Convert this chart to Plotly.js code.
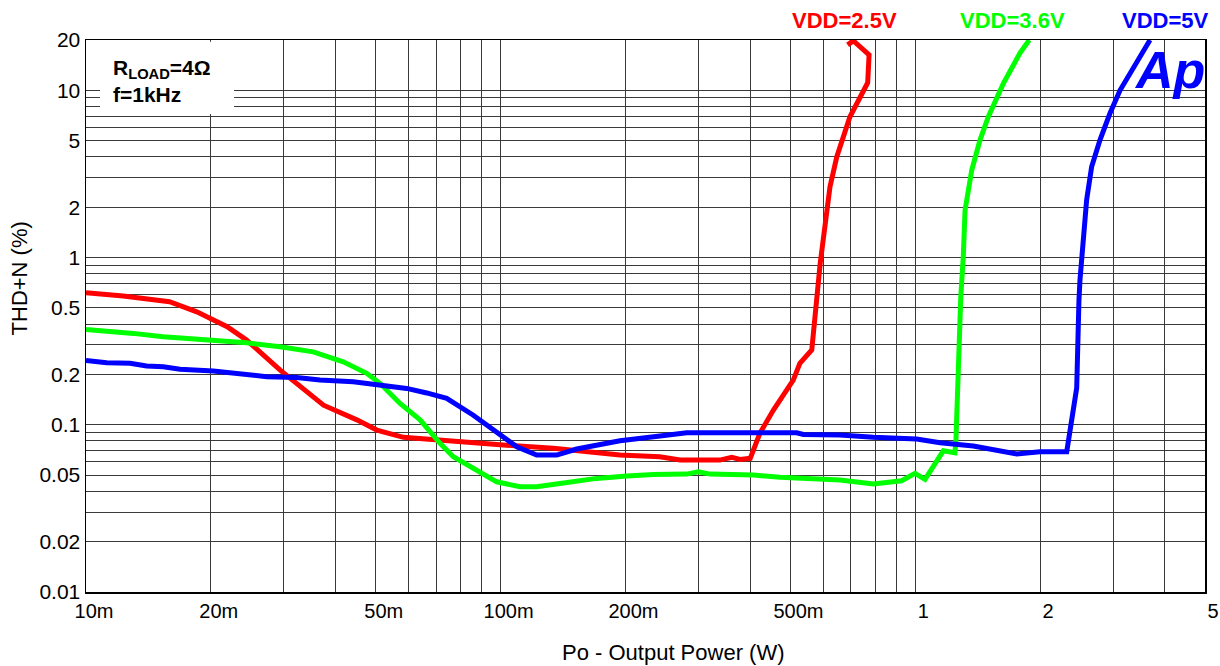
<!DOCTYPE html>
<html>
<head>
<meta charset="utf-8">
<script src="https://cdn.plot.ly/plotly-3.0.1.min.js"></script>
<style>html,body{margin:0;padding:0;background:#fff;}#chart{width:1220px;height:666px;}</style>
</head>
<body>
<div id="chart"></div>
<script>
// ---- data (Po in W, THD+N in %) ----
const redX = [0.01, 0.0123, 0.0159, 0.0185, 0.0219, 0.0244, 0.0294, 0.0347, 0.0374, 0.045, 0.0503, 0.0583, 0.0702, 0.0892, 0.1015, 0.134, 0.167, 0.194, 0.242, 0.271, 0.338, 0.361, 0.378, 0.40, 0.422, 0.455, 0.508, 0.527, 0.563, 0.590, 0.623, 0.647, 0.696, 0.736, 0.768, 0.774, 0.709, 0.687];
const redY = [0.616, 0.589, 0.544, 0.474, 0.386, 0.321, 0.212, 0.154, 0.131, 0.107, 0.093, 0.0841, 0.0811, 0.0767, 0.0757, 0.0723, 0.069, 0.0659, 0.0644, 0.0615, 0.0615, 0.0639, 0.0621, 0.063, 0.0889, 0.1225, 0.185, 0.233, 0.28, 0.924, 2.65, 4.01, 6.95, 9.16, 11.1, 16.3, 19.8, 18.7];

const greenX = [0.01, 0.01143, 0.013, 0.01536, 0.01717, 0.02028, 0.0244, 0.02937, 0.03534, 0.04174, 0.04754, 0.05118, 0.05721, 0.06393, 0.07143, 0.07691, 0.08757, 0.09786, 0.1114, 0.1222, 0.1391, 0.1705, 0.2015, 0.2335, 0.2811, 0.2999, 0.3201, 0.407, 0.4721, 0.5679, 0.6585, 0.7924, 0.9276, 0.9988, 1.056, 1.169, 1.247, 1.254, 1.27, 1.288, 1.306, 1.319, 1.369, 1.433, 1.501, 1.632, 1.789, 1.884];
const greenY = [0.372, 0.364, 0.352, 0.336, 0.329, 0.321, 0.309, 0.293, 0.273, 0.238, 0.203, 0.177, 0.134, 0.107, 0.0774, 0.0644, 0.0536, 0.0456, 0.0426, 0.0426, 0.0446, 0.0478, 0.0494, 0.0505, 0.0507, 0.0524, 0.0507, 0.05, 0.0485, 0.0474, 0.0467, 0.0442, 0.0463, 0.0512, 0.0472, 0.0699, 0.068, 0.0811, 0.233, 0.583, 1.01, 1.92, 3.34, 5.04, 6.95, 11.0, 16.7, 20];

const blueX = [0.01, 0.01122, 0.01277, 0.014, 0.01536, 0.01686, 0.02028, 0.0244, 0.02728, 0.03222, 0.03667, 0.04412, 0.05118, 0.05935, 0.06634, 0.07413, 0.08595, 0.09603, 0.1094, 0.1222, 0.1366, 0.1526, 0.1941, 0.2424, 0.2811, 0.407, 0.5177, 0.5372, 0.6585, 0.7924, 1.008, 1.148, 1.381, 1.757, 2.0, 2.32, 2.452, 2.483, 2.497, 2.591, 2.664, 2.79, 2.95, 3.119, 3.266, 3.421, 3.684];
const blueY = [0.242, 0.235, 0.233, 0.225, 0.222, 0.215, 0.21, 0.201, 0.194, 0.192, 0.185, 0.181, 0.173, 0.165, 0.155, 0.144, 0.114, 0.093, 0.0739, 0.0659, 0.0659, 0.0716, 0.0803, 0.0856, 0.0896, 0.0896, 0.0896, 0.0876, 0.0868, 0.0841, 0.0822, 0.0781, 0.0746, 0.0668, 0.069, 0.069, 0.166, 0.557, 0.734, 2.21, 3.49, 5.04, 7.29, 10.0, 12.1, 14.5, 20];

const seriesNames = ["VDD=2.5V", "VDD=3.6V", "VDD=5V"];
const seriesColors = ["#ff0000", "#00ff00", "#0000ff"];

// ---- ticks ----
const xTickVals = [0.01, 0.02, 0.05, 0.1, 0.2, 0.5, 1, 2, 5];
const xTickText = ["10m", "20m", "50m", "100m", "200m", "500m", "1", "2", "5"];
const xMinorVals = [0.03, 0.04, 0.06, 0.07, 0.08, 0.09, 0.3, 0.4, 0.6, 0.7, 0.8, 0.9, 3, 4];
const yTickVals = [0.01, 0.02, 0.05, 0.1, 0.2, 0.5, 1, 2, 5, 10, 20];
const yTickText = ["0.01", "0.02", "0.05", "0.1", "0.2", "0.5", "1", "2", "5", "10", "20"];
const yMinorVals = [0.03, 0.04, 0.06, 0.07, 0.08, 0.09, 0.3, 0.4, 0.6, 0.7, 0.8, 0.9, 3, 4, 6, 7, 8, 9];

const FONT = "Liberation Sans, Arial, sans-serif";
const GRID = "#3a3a3a";

const traces = [
  {x: redX, y: redY, name: seriesNames[0], mode: "lines", line: {color: seriesColors[0], width: 5}},
  {x: greenX, y: greenY, name: seriesNames[1], mode: "lines", line: {color: seriesColors[1], width: 5}},
  {x: blueX, y: blueY, name: seriesNames[2], mode: "lines", line: {color: seriesColors[2], width: 5}}
];

const layout = {
  width: 1220, height: 666,
  margin: {l: 86, r: 15, t: 40, b: 74},
  paper_bgcolor: "#fff", plot_bgcolor: "#fff",
  showlegend: false,
  font: {family: FONT, color: "#000", size: 21},
  xaxis: {
    type: "log", range: [Math.log10(0.01), Math.log10(5)],
    tickmode: "array", tickvals: xTickVals, ticktext: xTickText,
    ticks: "", showgrid: true, gridcolor: GRID, gridwidth: 1,
    minor: {tickmode: "array", tickvals: xMinorVals, showgrid: true, gridcolor: GRID, gridwidth: 1, ticks: ""},
    showline: true, linecolor: "#000", linewidth: 1.5, mirror: true,
    zeroline: false, ticklabelshift: 8,
    tickfont: {family: FONT, size: 20, color: "#000"}
  },
  yaxis: {
    type: "log", range: [Math.log10(0.01), Math.log10(20)],
    tickmode: "array", tickvals: yTickVals, ticktext: yTickText,
    ticks: "", showgrid: true, gridcolor: GRID, gridwidth: 1,
    minor: {tickmode: "array", tickvals: yMinorVals, showgrid: true, gridcolor: GRID, gridwidth: 1, ticks: ""},
    showline: true, linecolor: "#000", linewidth: 1.5, mirror: true,
    zeroline: false, ticklabelstandoff: 0,
    tickfont: {family: FONT, size: 21, color: "#000"}
  },
  shapes: [
    {type: "rect", xref: "paper", yref: "paper", x0: 0.0125, x1: 0.1323, y0: 0.866, y1: 0.997,
     fillcolor: "#fff", line: {width: 0}, layer: "above"}
  ],
  annotations: [
    {xref: "paper", yref: "paper", x: 0.0223, y: 0.947, xanchor: "left", yanchor: "middle", showarrow: false,
     text: "<b>R<sub>LOAD</sub>=4Ω</b>", font: {family: FONT, size: 21, color: "#000"}},
    {xref: "paper", yref: "paper", x: 0.0223, y: 0.9004, xanchor: "left", yanchor: "middle", showarrow: false,
     text: "<b>f=1kHz</b>", font: {family: FONT, size: 21, color: "#000"}},
    {xref: "paper", yref: "paper", x: 0.6774, y: 1.0362, xanchor: "center", yanchor: "middle", showarrow: false,
     text: "<b>" + seriesNames[0] + "</b>", font: {family: FONT, size: 22, color: seriesColors[0]}},
    {xref: "paper", yref: "paper", x: 0.828, y: 1.0362, xanchor: "center", yanchor: "middle", showarrow: false,
     text: "<b>" + seriesNames[1] + "</b>", font: {family: FONT, size: 22, color: seriesColors[1]}},
    {xref: "paper", yref: "paper", x: 0.9643, y: 1.0362, xanchor: "center", yanchor: "middle", showarrow: false,
     text: "<b>" + seriesNames[2] + "</b>", font: {family: FONT, size: 22, color: seriesColors[2]}},
    {xref: "paper", yref: "paper", x: 0.9687, y: 0.945, xanchor: "center", yanchor: "middle", showarrow: false,
     text: "<b><i>Ap</i></b>", font: {family: FONT, size: 52, color: "#0000ff"}},
    {xref: "paper", yref: "paper", x: -0.0595, y: 0.5688, xanchor: "center", yanchor: "middle", showarrow: false,
     textangle: -90, text: "THD+N (%)", font: {family: FONT, size: 22, color: "#000"}},
    {xref: "paper", yref: "paper", x: 0.5246, y: -0.1087, xanchor: "center", yanchor: "middle", showarrow: false,
     text: "Po - Output Power (W)", font: {family: FONT, size: 22, color: "#000"}}
  ]
};

Plotly.newPlot("chart", traces, layout, {staticPlot: true, displayModeBar: false});
</script>
</body>
</html>
